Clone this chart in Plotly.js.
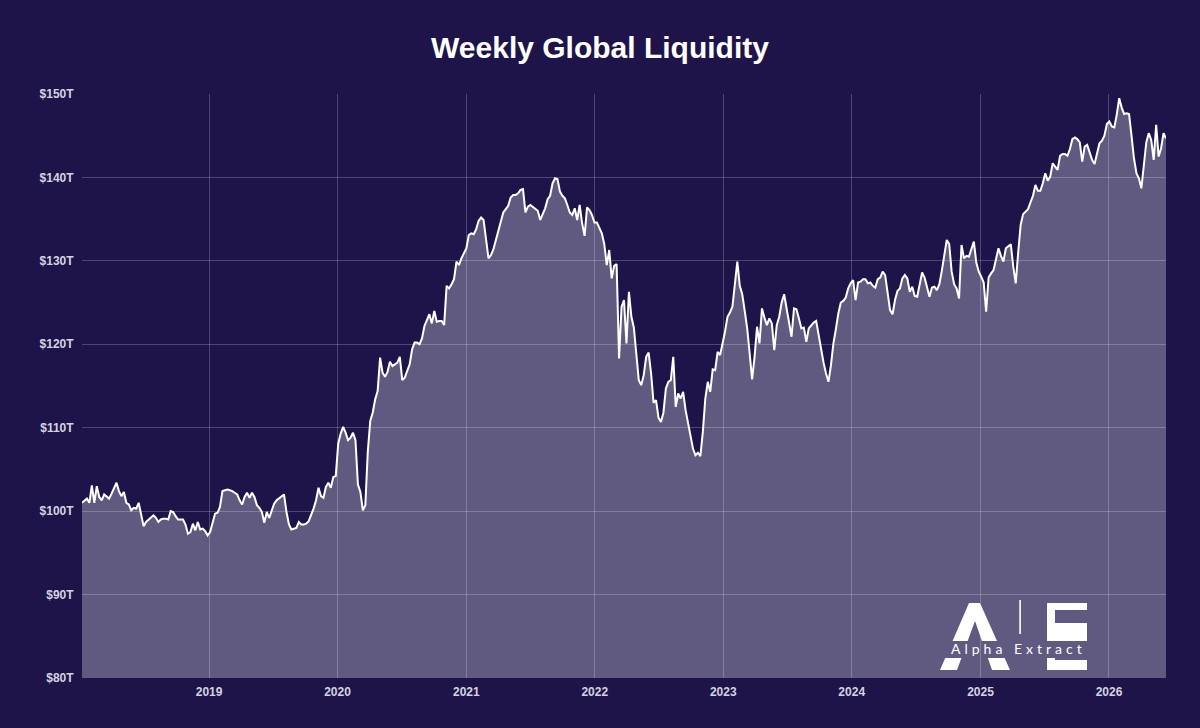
<!DOCTYPE html>
<html>
<head>
<meta charset="utf-8">
<script src="https://cdn.plot.ly/plotly-3.0.1.min.js"></script>
<style>
html,body{margin:0;padding:0;background:#1e1449;}
#chart{width:1200px;height:728px;}
</style>
</head>
<body>
<div id="chart"></div>
<script>
// First weekly observation (Friday) of each calendar year
const yearStarts = ['2018-01-05','2019-01-04','2020-01-03','2021-01-01','2022-01-07','2023-01-06','2024-01-05','2025-01-03','2026-01-02'];

// Weekly global liquidity, trillions USD
const v2018 = [101.0,101.3,101.5,101.0,103.1,101.0,103.0,101.7,101.3,102.0,101.7,101.5,102.1,102.8,103.4,102.4,101.8,102.3,101.0,100.8,100.1,100.4,100.3,101.0,99.7,98.2,98.7,99.0,99.2,99.5,99.2,98.7,99.0,99.1,99.1,99.0,100.0,99.9,99.4,99.0,99.0,99.0,98.4,97.3,97.5,98.5,97.7,98.7,97.8,97.9,97.6,97.1];
const v2019 = [97.5,98.7,99.7,99.8,100.5,102.4,102.5,102.6,102.5,102.4,102.2,102.0,101.3,100.8,101.7,102.2,101.6,102.2,101.7,100.7,100.4,99.9,98.6,99.9,99.2,100.2,100.9,101.3,101.5,101.8,102.0,99.9,98.4,97.8,97.9,98.0,98.7,98.4,98.4,98.5,98.8,99.5,100.3,101.3,102.8,101.8,101.6,102.9,103.4,102.8,104.1,104.2];
const v2020 = [108.1,109.3,110.1,109.4,108.5,108.8,109.4,108.5,103.2,102.3,100.1,100.7,107.1,110.8,111.8,113.4,114.4,118.4,116.6,116.1,116.7,117.9,117.4,117.6,117.8,118.5,115.7,116.0,116.8,117.6,119.4,120.2,120.2,120.0,120.7,122.2,122.9,123.6,122.5,124.0,122.7,122.8,122.8,122.3,127.0,126.7,127.2,127.8,129.9,129.5,130.3,131.0];
const v2021 = [131.5,133.1,133.3,133.2,133.8,134.8,135.2,134.9,132.7,130.3,130.7,131.4,132.5,133.5,134.7,135.8,136.2,136.6,137.6,137.9,137.9,138.1,138.5,138.6,135.8,136.5,136.7,136.5,136.3,136.0,134.9,135.6,136.3,137.4,137.8,139.3,139.9,139.8,138.3,137.8,137.5,136.7,135.8,135.5,136.3,134.9,136.7,134.5,133.0,136.4,136.1,135.5,134.6];
const v2022 = [134.6,133.9,133.3,132.0,129.5,131.3,127.9,129.4,129.6,118.3,124.5,125.3,120.1,126.3,123.3,122.0,118.9,115.7,115.1,116.3,118.5,119.0,116.5,113.0,113.3,111.2,110.7,111.8,114.7,115.5,115.7,118.5,112.5,114.1,113.5,114.3,112.1,110.5,109.2,107.5,106.7,107.0,106.6,109.5,113.5,115.5,114.3,117.0,116.9,119.1,118.7,120.0];
const v2023 = [121.5,123.3,123.8,124.5,127.4,129.9,127.0,126.0,124.0,121.9,118.9,115.8,118.5,122.1,120.1,124.3,123.2,122.3,123.1,122.5,119.3,122.3,123.3,125.0,126.0,124.3,122.7,120.9,124.3,124.2,123.1,121.9,122.0,120.3,121.9,122.3,122.6,122.8,121.1,119.0,117.8,116.5,115.5,117.5,120.1,121.8,123.7,125.0,125.2,125.6,126.7,127.3];
const v2024 = [127.7,125.3,127.4,127.5,127.8,127.8,127.3,127.4,127.0,126.8,127.8,128.0,128.7,128.3,126.2,124.1,123.6,125.3,126.4,126.7,127.9,128.3,127.9,126.3,126.9,125.8,125.7,127.2,128.6,128.0,126.9,125.7,126.8,126.9,126.5,127.2,128.8,130.8,132.5,132.0,128.7,127.2,126.7,125.5,131.9,130.3,130.6,130.5,131.5,132.3,129.8,128.7];
const v2025 = [128.1,127.4,123.9,128.0,128.5,128.9,130.2,131.5,130.6,129.9,131.5,131.7,132.0,129.3,127.3,131.0,134.3,135.6,135.9,136.2,137.0,137.8,139.1,138.4,138.4,139.3,140.5,139.6,140.1,141.7,141.3,140.9,142.6,142.8,142.8,142.6,143.4,144.6,144.8,144.6,144.2,141.9,143.7,143.9,143.0,142.1,141.6,142.7,144.1,144.4,145.0,146.4];
const v2026 = [146.7,146.1,146.0,147.5,149.5,148.4,147.6,147.7,147.6,145.0,142.3,140.5,139.9,138.7,141.5,144.2,145.3,144.5,142.1,146.3,142.5,143.5,145.3,144.7];

const yearlyValues = [v2018,v2019,v2020,v2021,v2022,v2023,v2024,v2025,v2026];

const yTickVals = [80,90,100,110,120,130,140,150];
const yTickText = ['$80T','$90T','$100T','$110T','$120T','$130T','$140T','$150T'];
const xTickVals = ['2019-01-01','2020-01-01','2021-01-01','2022-01-01','2023-01-01','2024-01-01','2025-01-01','2026-01-01'];
const xTickText = ['2019','2020','2021','2022','2023','2024','2025','2026'];

// Build weekly date axis
const dates = [], values = [];
yearlyValues.forEach((arr, k) => {
  const p = yearStarts[k].split('-').map(Number);
  const t0 = Date.UTC(p[0], p[1]-1, p[2]);
  arr.forEach((v, i) => {
    const d = new Date(t0 + i*7*86400000);
    dates.push(d.toISOString().slice(0,10));
    values.push(v);
  });
});

const bg = '#1e1449';
const grid = 'rgba(255,255,255,0.22)';
const tickFont = {family:'"Liberation Sans", Arial, sans-serif', size:12, color:'#d5d3e0', weight:'bold'};

const trace = {
  type:'scatter', mode:'lines', x:dates, y:values,
  line:{color:'#ffffff', width:2},
  fill:'tozeroy', fillcolor:'rgba(255,255,255,0.3)',
  hoverinfo:'skip'
};

const logoSvg =
 '<svg xmlns="http://www.w3.org/2000/svg" width="160" height="80" viewBox="0 0 160 80">' +
 '<defs><clipPath id="c"><rect x="0" y="0" width="160" height="51"/><rect x="0" y="68" width="160" height="12"/></clipPath></defs>' +
 '<g fill="#ffffff" clip-path="url(#c)">' +
 '<polygon points="39,13 50,13 80,80 62,80 45,31 27,80 10,80"/>' +
 '<rect x="117" y="13" width="40" height="7"/>' +
 '<rect x="117" y="13" width="8" height="67"/>' +
 '<rect x="117" y="33" width="40" height="18"/>' +
 '<rect x="117" y="70" width="40" height="10"/>' +
 '</g>' +
 '<rect x="89.3" y="10" width="1.6" height="34" fill="#ffffff"/>' +
 '</svg>';

const layout = {
  width:1200, height:728,
  paper_bgcolor:bg, plot_bgcolor:bg,
  margin:{l:82, r:34, t:94, b:50},
  showlegend:false,
  hovermode:false,
  title:{
    text:'Weekly Global Liquidity',
    x:0.5, xanchor:'center', y:0.935, yanchor:'middle',
    font:{family:'"Liberation Sans", Arial, sans-serif', size:30, color:'#ffffff', weight:'bold'}
  },
  xaxis:{
    type:'date',
    range:[dates[0], dates[dates.length-1]],
    tickvals:xTickVals, ticktext:xTickText,
    showgrid:true, gridcolor:grid, gridwidth:1,
    zeroline:false, showline:false,
    ticks:'outside', ticklen:3, tickcolor:'rgba(0,0,0,0)',
    tickfont:tickFont
  },
  yaxis:{
    range:[80,150],
    tickvals:yTickVals, ticktext:yTickText,
    showgrid:true, gridcolor:grid, gridwidth:1,
    zeroline:false, showline:false,
    ticks:'outside', ticklen:5, tickcolor:'rgba(0,0,0,0)',
    tickfont:tickFont
  },
  images:[{
    source:'data:image/svg+xml;charset=utf-8,' + encodeURIComponent(logoSvg),
    xref:'paper', yref:'paper',
    x:(930-82)/1084, y:(678-590)/584,
    sizex:160/1084, sizey:80/584,
    xanchor:'left', yanchor:'top',
    sizing:'stretch', layer:'above'
  }],
  annotations:[{
    xref:'paper', yref:'paper',
    x:(1018-82)/1084, y:(678-648)/584,
    xanchor:'center', yanchor:'middle',
    showarrow:false,
    text:'<span style="letter-spacing:4px">Alpha Extract</span>',
    font:{family:'Lato, "Open Sans", sans-serif', size:14, color:'#ffffff'}
  }]
};

Plotly.newPlot('chart', [trace], layout, {displayModeBar:false, staticPlot:true});
</script>
</body>
</html>
